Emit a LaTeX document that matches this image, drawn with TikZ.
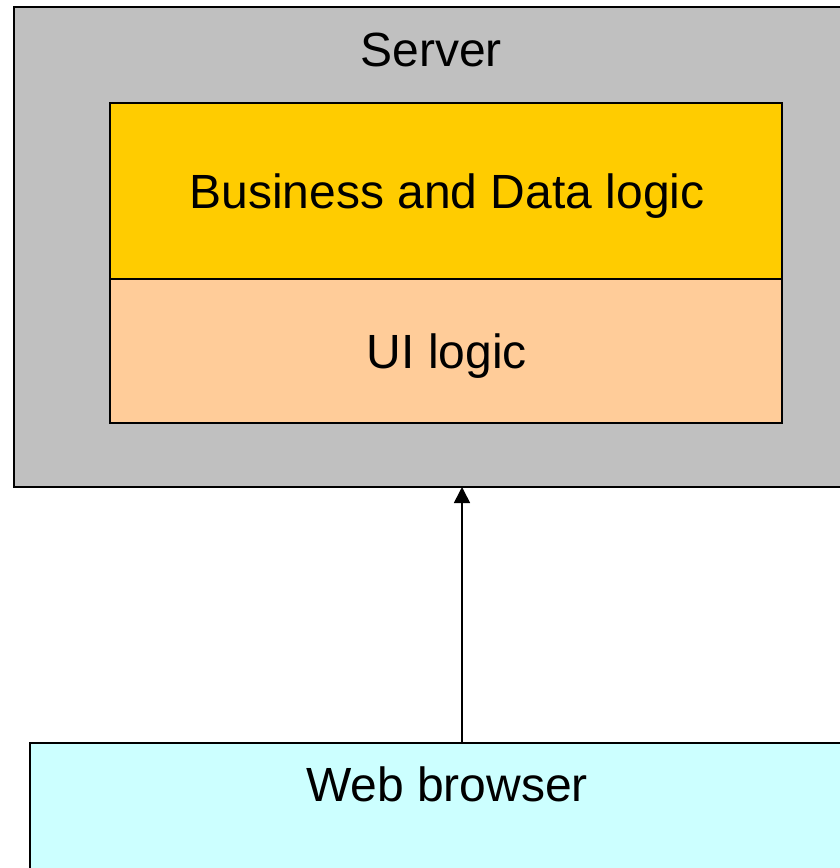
\documentclass[tikz,border=0pt]{standalone}
\usepackage{fontspec}
\setmainfont{Liberation Sans}
\usetikzlibrary{arrows.meta}
\definecolor{srvgray}{HTML}{C0C0C0}
\definecolor{bizyellow}{HTML}{FFCC00}
\definecolor{uipeach}{HTML}{FFCC99}
\definecolor{webcyan}{HTML}{CCFFFF}
\begin{document}
\begin{tikzpicture}[x=1pt,y=-1pt,
  box/.style={draw, line width=2pt, inner sep=0pt, outer sep=0pt, anchor=north west},
  lbl/.style={font=\fontsize{48}{58}\selectfont, anchor=base, inner sep=0pt},
  link/.style={line width=1.6pt, -{Triangle[width=16pt,length=16pt]}}]
\useasboundingbox (0,0) rectangle (840,868);
\clip (0,0) rectangle (840,868);
% server frame and its two layers
\node[box, fill=srvgray, minimum width=846pt, minimum height=480pt] (server) at (14,7) {};
\node[box, fill=bizyellow, minimum width=672pt, minimum height=176pt] (biz) at (110,103) {};
\node[box, fill=uipeach, minimum width=672pt, minimum height=144pt] (ui) at (110,279) {};
% client
\node[box, fill=webcyan, minimum width=850pt, minimum height=200pt] (browser) at (30,743) {};
% labels
\node[lbl] (serverlbl) at (431,66) {Server};
\node[lbl] (bizlbl) at (447,208) {Business and Data logic};
\node[lbl] (uilbl) at (447,368) {UI logic};
\node[lbl] (browserlbl) at (447,801) {Web browser};
% request from browser to server
\coordinate (linkx) at (462,0);
\draw[link] (linkx |- browser.north) -- (linkx |- server.south);
\end{tikzpicture}
\end{document}
